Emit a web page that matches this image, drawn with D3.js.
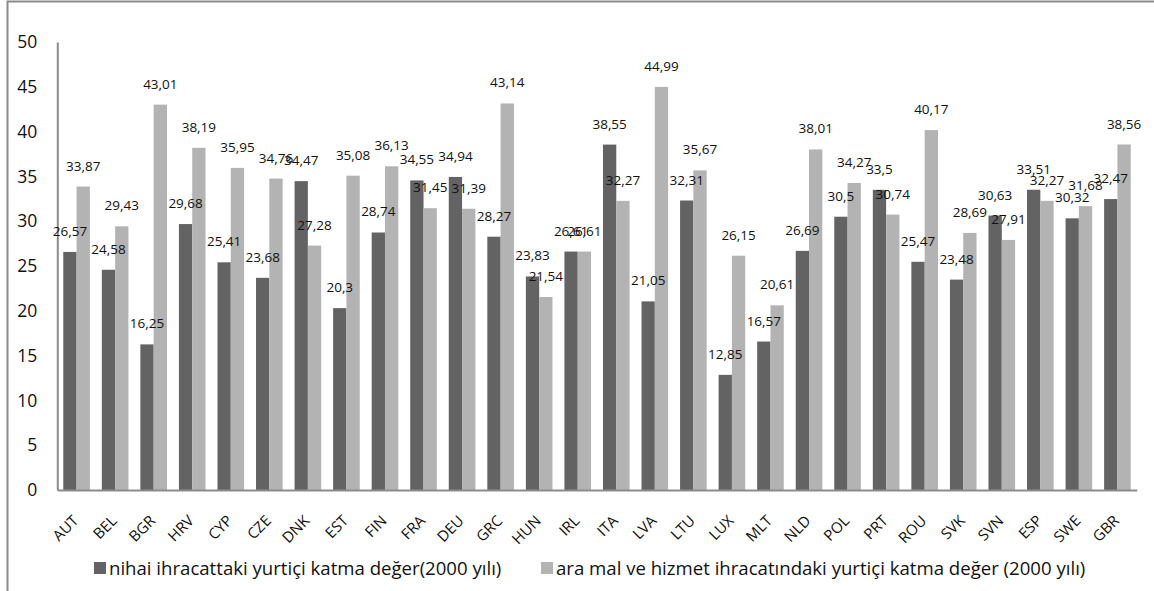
<!DOCTYPE html>
<html>
<head>
<meta charset="utf-8">
<script src="https://cdn.jsdelivr.net/npm/d3@7"></script>
<style>
  html, body { margin: 0; padding: 0; background: #fff; }
  svg { display: block; font-family: "Open Sans", "Noto Sans", sans-serif; }
</style>
</head>
<body>
<svg id="chart" width="1154" height="591"></svg>
<script>
// Countries (ISO3 codes) in display order
const categories = ["AUT","BEL","BGR","HRV","CYP","CZE","DNK","EST","FIN","FRA","DEU","GRC","HUN","IRL",
                    "ITA","LVA","LTU","LUX","MLT","NLD","POL","PRT","ROU","SVK","SVN","ESP","SWE","GBR"];

// Domestic value added in final exports, year 2000 (%)
const finalExportsVA = [26.57,24.58,16.25,29.68,25.41,23.68,34.47,20.3,28.74,34.55,34.94,28.27,23.83,26.61,
                        38.55,21.05,32.31,12.85,16.57,26.69,30.5,33.5,25.47,23.48,30.63,33.51,30.32,32.47];

// Domestic value added in intermediate goods and services exports, year 2000 (%)
const intermediateExportsVA = [33.87,29.43,43.01,38.19,35.95,34.76,27.28,35.08,36.13,31.45,31.39,43.14,21.54,26.61,
                               32.27,44.99,35.67,26.15,20.61,38.01,34.27,30.74,40.17,28.69,27.91,32.27,31.68,38.56];

const seriesNames = ["nihai ihracattaki yurtiçi katma değer(2000 yılı)",
                     "ara mal ve hizmet ihracatındaki yurtiçi katma değer (2000 yılı)"];
const yTicks = [0,5,10,15,20,25,30,35,40,45,50];

const colors = ["#636363", "#b3b3b3"];
const svg = d3.select("#chart");

// outer frame (top and left edges visible)
svg.append("path")
  .attr("d", "M7.5,591 V1.5 H1154")
  .attr("fill", "none")
  .attr("stroke", "#8a8a8a")
  .attr("stroke-width", 2);

const plot = { left: 57.3, right: 1136.7, top: 42, bottom: 490 };

const x = d3.scaleBand()
  .domain(categories)
  .range([plot.left, plot.right])
  .paddingInner(0.31)
  .paddingOuter(0.155);

const xs = d3.scaleBand()
  .domain([0, 1])
  .range([0, x.bandwidth()]);

const y = d3.scaleLinear().domain([0, 50]).range([plot.bottom, plot.top]);

const series = [finalExportsVA, intermediateExportsVA];

// bars
series.forEach((vals, s) => {
  svg.append("g")
    .selectAll("rect")
    .data(vals)
    .join("rect")
      .attr("x", (d, i) => x(categories[i]) + xs(s))
      .attr("y", d => y(d))
      .attr("width", xs.bandwidth())
      .attr("height", d => y(0) - y(d))
      .attr("fill", colors[s]);
});

// y axis: line and labels only
const yAxis = svg.append("g")
  .attr("transform", `translate(${plot.left},0)`)
  .call(d3.axisLeft(y).tickValues(yTicks).tickSize(0).tickPadding(20).tickFormat(d3.format("d")));
yAxis.select(".domain").attr("stroke", "#8c8c8c").attr("stroke-width", 2);
yAxis.selectAll("text")
  .attr("font-size", 17.5)
  .attr("fill", "#111")
  .attr("font-family", "'Open Sans', sans-serif");

// x axis: baseline from the axis, labels rotated in their own groups
const xAxis = svg.append("g")
  .attr("transform", `translate(0,${plot.bottom})`)
  .call(d3.axisBottom(x).tickSize(0).tickFormat(""));
xAxis.select(".domain").attr("stroke", "#8c8c8c").attr("stroke-width", 2);

svg.append("g")
  .selectAll("g")
  .data(categories)
  .join("g")
    .attr("transform", d => `translate(${x(d) + x.bandwidth() / 2 - 1},518) rotate(-45)`)
  .append("text")
    .style("text-anchor", "end")
    .attr("dy", "0.35em")
    .attr("font-size", 15)
    .attr("fill", "#111")
    .text(d => d);

// value labels
const fmt = v => String(v).replace(".", ",");
series.forEach((vals, s) => {
  svg.append("g")
    .selectAll("text")
    .data(vals)
    .join("text")
      .attr("x", (d, i) => x(categories[i]) + xs(s) + xs.bandwidth() / 2)
      .attr("y", d => y(d) - 16)
      .attr("text-anchor", "middle")
      .attr("font-size", 13.5)
      .attr("fill", "#111")
      .text(fmt);
});

// legend
const legend = svg.append("g").attr("transform", "translate(94,562)");
const legendX = [0, 447];
seriesNames.forEach((name, s) => {
  const g = legend.append("g").attr("transform", `translate(${legendX[s]},0)`);
  g.append("rect").attr("width", 12).attr("height", 12).attr("fill", colors[s]);
  g.append("text")
    .attr("x", 15)
    .attr("y", 12.5)
    .attr("font-size", 18.6)
    .attr("fill", "#111")
    .text(name);
});
</script>
</body>
</html>
